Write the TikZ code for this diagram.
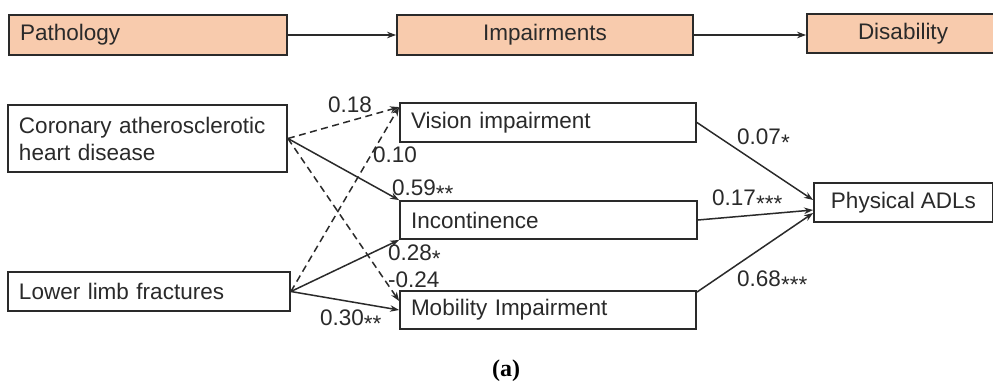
\documentclass[tikz,border=0pt]{standalone}
\usepackage{fontspec}
\setmainfont{Liberation Sans}
\newfontfamily\capfont{Liberation Serif}
\usetikzlibrary{arrows.meta,calc}
\definecolor{peach}{HTML}{F8CBAD}
\definecolor{ink}{HTML}{2A2A2A}
\newcommand\sigstar{\raisebox{-5.5pt}{*}}
\begin{document}
\begin{tikzpicture}[x=1pt,y=-1pt,
  every node/.style={font=\fontsize{22.5}{27}\selectfont,text=ink},
  lbox/.style={draw=ink,line width=1.8pt,inner xsep=11pt,inner ysep=0pt,align=left},
  cbox/.style={draw=ink,line width=1.8pt,inner sep=0pt,align=center},
  lab/.style={anchor=base west,inner sep=0pt},
  con/.style={draw=ink,line width=1.5pt,-{Stealth[length=9pt,width=6.5pt]}},
  dcon/.style={con,dash pattern=on 7pt off 4.5pt}]
\fill[white] (0,0) rectangle (993,381);
\useasboundingbox (0,0) rectangle (993,381);
% top row
\node[lbox,fill=peach,text width=256pt,minimum height=40pt] (path) at (148,35) {Pathology};
\node[cbox,fill=peach,minimum width=296pt,minimum height=40pt] (imp) at (545,35) {Impairments};
\node[cbox,fill=peach,minimum width=192pt,minimum height=39pt] (dis) at (903,33.5) {Disability};
\draw[con] (path.east) -- (imp.west);
\draw[con] (imp.east) -- (imp.east -| dis.west);
% pathology
\node[lbox,fill=white,text width=257pt,minimum height=67pt] (chd) at (147.5,138.5) {Coronary atherosclerotic\\heart disease};
\node[lbox,fill=white,text width=260pt,minimum height=39pt] (llf) at (149,291.5) {Lower limb fractures};
% impairments
\node[lbox,fill=white,text width=274pt,minimum height=39pt] (vis) at (548,122.5) {Vision impairment};
\node[lbox,fill=white,text width=275pt,minimum height=38pt] (inc) at (548.5,220) {Incontinence};
\node[lbox,fill=white,text width=274pt,minimum height=38pt] (mob) at (548,310) {Mobility Impairment};
% disability
\node[cbox,fill=white,minimum width=179pt,minimum height=39pt] (adl) at (903.5,202.5) {Physical ADLs};
% connectors
\draw[dcon] (chd.east) -- ([yshift=-5pt]vis.north west);
\draw[con] (chd.east) -- (inc.north west);
\draw[dcon] (chd.east) -- ([yshift=9pt]mob.west);
\draw[dcon] (llf.east) -- ([yshift=-5pt]vis.north west);
\draw[con] (llf.east) -- (inc.south west);
\draw[con] (llf.east) -- (mob.west);
\draw[con] (vis.east) -- ([yshift=2.5pt]adl.west);
\draw[con] (inc.east) -- ([yshift=-7.5pt]adl.west);
\draw[con] ([yshift=-2pt]mob.north east) -- ([yshift=-10.5pt]adl.west);
% labels
\node[lab] (l1) at (328,112.5) {0.18};
\node[lab] (l2) at (373,162.5) {0.10};
\node[lab] (l3) at (392,195.5) {0.59\sigstar\sigstar};
\node[lab] (l4) at (388,260.5) {0.28\sigstar};
\node[lab] (l5) at (388,287) {-0.24};
\node[lab] (l6) at (320,325.5) {0.30\sigstar\sigstar};
\node[lab] (l7) at (737,144.5) {0.07\sigstar};
\node[lab] (l8) at (712,205.5) {0.17\sigstar\sigstar\sigstar};
\node[lab] (l9) at (737,286.5) {0.68\sigstar\sigstar\sigstar};
\node[font=\fontsize{24}{28}\selectfont\capfont\bfseries,text=black] (cap) at (506,371) {(a)};
\end{tikzpicture}
\end{document}
